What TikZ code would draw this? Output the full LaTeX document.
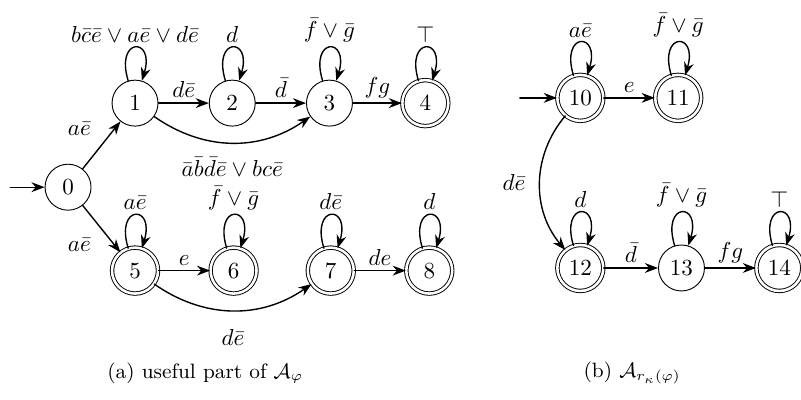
\documentclass[tikz,border=0pt]{standalone}
\usepackage{amsmath,amssymb}
\usepackage{tikz}
\usetikzlibrary{arrows.meta,positioning}
\tikzset{
    every picture/.style={line cap=round,line join=round},
    stnode/.style={draw,circle,minimum size=7mm,inner sep=1pt,font=\normalsize},
    accnode/.style={stnode,double,double distance=1.1pt},
    trans/.style={-{Stealth[length=2mm,width=1.5mm]},semithick},
    selfloop/.style={trans,out=107,in=73,min distance=7mm,looseness=7},
    lbl/.style={inner sep=2pt}
}
\begin{document}
\begin{tikzpicture}[node distance=1.48cm,on grid]
  \useasboundingbox (-1.036,-3.23) rectangle (11.16,2.85);
  % (a) useful part
  \node[stnode] (q0) at (0,0) {$0$};
  \node[stnode,above right=1.28cm and 1.02cm of q0] (q1) {$1$};
  \node[stnode,right=of q1] (q2) {$2$};
  \node[stnode,right=of q2] (q3) {$3$};
  \node[accnode,right=1.46cm of q3] (q4) {$4$};
  \node[accnode,below right=1.27cm and 1.02cm of q0] (q5) {$5$};
  \node[accnode,right=1.5cm of q5] (q6) {$6$};
  \node[accnode,right=of q6] (q7) {$7$};
  \node[accnode,right=1.5cm of q7] (q8) {$8$};
  \coordinate[left=0.88cm of q0] (in0);
  \draw[trans] (in0) -- (q0);
  \draw[trans] (q0) -- node[lbl,above left,pos=0.6,xshift=-4pt]{$a\bar e$} (q1);
  \draw[trans] (q0) -- node[lbl,below left,pos=0.6,xshift=-4pt]{$a\bar e$} (q5);
  \draw[selfloop] (q1) to node[lbl,above]{$b\bar c\bar e \vee a\bar e \vee d\bar e$} (q1);
  \draw[selfloop] (q2) to node[lbl,above]{$d$} (q2);
  \draw[selfloop] (q3) to node[lbl,above]{$\bar f \vee \bar g$} (q3);
  \draw[selfloop] (q4) to node[lbl,above]{$\top$} (q4);
  \draw[trans] (q1) -- node[lbl,above]{$d\bar e$} (q2);
  \draw[trans] (q2) -- node[lbl,above]{$\bar d$} (q3);
  \draw[trans] (q3) -- node[lbl,above]{$fg$} (q4);
  \draw[trans] (q1) to[bend right=35] node[lbl,below,yshift=-4pt]{$\bar a\bar b\bar d\bar e \vee bc\bar e$} (q3);
  \draw[selfloop] (q5) to node[lbl,above]{$a\bar e$} (q5);
  \draw[selfloop] (q6) to node[lbl,above]{$\bar f \vee \bar g$} (q6);
  \draw[selfloop] (q7) to node[lbl,above]{$d\bar e$} (q7);
  \draw[selfloop] (q8) to node[lbl,above]{$d$} (q8);
  \draw[trans] (q5) -- node[lbl,above]{$e$} (q6);
  \draw[trans] (q7) -- node[lbl,above]{$de$} (q8);
  \draw[trans] (q5) to[bend right=35] node[lbl,below,yshift=-6pt]{$d\bar e$} (q7);
  % (b) reduced automaton
  \node[accnode] (q10) at (7.8,1.36) {$10$};
  \node[accnode,right=1.49cm of q10] (q11) {$11$};
  \node[accnode,below=2.59cm of q10] (q12) {$12$};
  \node[stnode,right=1.54cm of q12] (q13) {$13$};
  \node[accnode,right=1.49cm of q13] (q14) {$14$};
  \coordinate[left=0.92cm of q10] (in10);
  \draw[trans] (in10) -- (q10);
  \draw[selfloop] (q10) to node[lbl,above]{$a\bar e$} (q10);
  \draw[selfloop] (q11) to node[lbl,above]{$\bar f \vee \bar g$} (q11);
  \draw[selfloop] (q12) to node[lbl,above]{$d$} (q12);
  \draw[selfloop] (q13) to node[lbl,above]{$\bar f \vee \bar g$} (q13);
  \draw[selfloop] (q14) to node[lbl,above]{$\top$} (q14);
  \draw[trans] (q10) -- node[lbl,above]{$e$} (q11);
  \draw[trans] (q12) -- node[lbl,above]{$\bar d$} (q13);
  \draw[trans] (q13) -- node[lbl,above]{$fg$} (q14);
  \draw[trans] (q10) to[bend right=40] node[lbl,left,xshift=-4pt]{$d\bar e$} (q12);
  % captions
  \node[font=\small] (capa) at (2.09,-2.83) {(a) useful part of $\mathcal{A}_\varphi$};
  \node[font=\small] (capb) at (8.59,-2.83) {(b) $\mathcal{A}_{r_\kappa(\varphi)}$};
\end{tikzpicture}
\end{document}
